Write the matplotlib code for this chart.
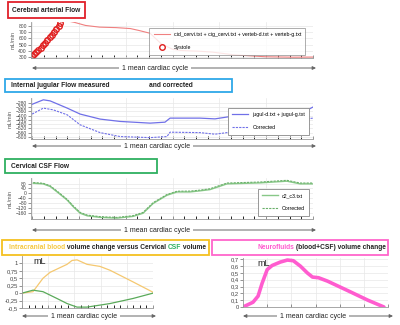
import numpy as np
import matplotlib.pyplot as plt
from matplotlib.patches import Rectangle
from matplotlib.ticker import MultipleLocator, FixedLocator

plt.rcParams['font.family'] = ['Liberation Sans', 'DejaVu Sans']

# --- data (time as fraction of one cardiac cycle) ---
art_t = [0, .03, .06, .09, .105, .125, .15, .19, .24, .30, .35, .38, .42, .46, .50, .53, .60, .64, .72, .83, .93, 1.0]
art_v = [310, 470, 650, 810, 860, 878, 855, 805, 778, 770, 755, 725, 680, 510, 425, 405, 392, 380, 335, 305, 298, 300]
sys_t = [0, .007, .014, .022, .030, .038, .046, .054, .062, .070, .078, .086, .094, .101]
sys_v = [315, 345, 375, 410, 450, 490, 530, 575, 615, 660, 705, 750, 795, 840]

jug_t = [0, .04, .064, .125, .171, .242, .313, .42, .473, .491, .598, .651, .705, .811, .918, .975, 1.0]
jug_v = [-294, -252, -262, -330, -386, -433, -455, -471, -462, -424, -424, -431, -409, -385, -365, -355, -320]
jugc_t = [0, .04, .075, .125, .171, .242, .313, .42, .48, .491, .598, .651, .705, .85, 1.0]
jugc_v = [-386, -330, -346, -393, -487, -560, -597, -607, -597, -556, -560, -575, -556, -471, -424]

csf_t = [.004, .039, .064, .089, .125, .146, .171, .196, .242, .302, .359, .395, .431, .48, .516, .562, .598, .633, .694, .811, .907, .954, 1.0]
csf_v = [82, 77, 56, 11, -56, -109, -163, -184, -197, -203, -189, -163, -83, -16, 11, 11, 20, 30, 77, 85, 99, 77, 77]
csfc_v = [88, 82, 62, 18, -50, -102, -156, -178, -191, -197, -183, -156, -76, -10, 17, 18, 26, 37, 84, 92, 106, 84, 84]

blood_t = [0, .084, .160, .214, .344, .382, .420, .496, .595, .672, .847, 1.0]
blood_v = [0, .05, .50, .70, .97, 1.10, 1.12, .97, .90, .77, .38, .03]
ccsf_t = [0, .084, .160, .267, .344, .420, .496, .672, .847, 1.0]
ccsf_v = [0, .10, .05, -.18, -.35, -.47, -.47, -.35, -.18, 0]

neuro_t = [0, .069, .104, .132, .167, .201, .257, .306, .347, .396, .444, .479, .521, .583, .743, .861, .972]
neuro_v = [0, .07, .16, .35, .55, .61, .66, .69, .68, .60, .50, .44, .43, .38, .22, .10, 0]

W, H = 400, 325
fig = plt.figure(figsize=(4, 3.25), dpi=100)


def panel(x0, y0, x1, y1):
    ax = fig.add_axes([x0 / W, 1 - y1 / H, (x1 - x0) / W, (y1 - y0) / H])
    for s in ['top', 'right']:
        ax.spines[s].set_visible(False)
    for s in ['left', 'bottom']:
        ax.spines[s].set_color('#999999')
        ax.spines[s].set_linewidth(0.6)
    ax.tick_params(labelsize=3.6, colors='#444444', length=2, width=0.4, pad=1)
    ax.tick_params(axis='x', which='both', direction='in', labelbottom=False, length=2)
    ax.grid(color='#e8e8e8', lw=0.5)
    ax.set_axisbelow(True)
    return ax


def comma(vals):
    return [('%g' % v).replace('.', ',') for v in vals]


def cycle_arrow(x0, x1, y, xc):
    ov.annotate('', xy=(x1, y), xytext=(x0, y),
                arrowprops=dict(arrowstyle='<|-|>', color='#666666', lw=0.7,
                                mutation_scale=5, shrinkA=0, shrinkB=0))
    ov.text(xc, y, '1 mean cardiac cycle', fontsize=5, ha='center', va='center',
            color='#222222', bbox=dict(fc='white', ec='none', pad=2))


def lbox(x0, y0, x1, y1, col):
    ov.add_patch(Rectangle((x0, y0), x1 - x0, y1 - y0, fill=False, ec=col, lw=1.3))


def ctext(x, y, parts, fs=4.8):
    t = ov.text(x, y, parts[0][0], color=parts[0][1], fontsize=fs, fontweight='bold',
                va='center', ha='left')
    for s, c in parts[1:]:
        t = ov.annotate(s, xy=(1, 0), xycoords=t, va='bottom', ha='left',
                        color=c, fontsize=fs, fontweight='bold')


# overlay in pixel coordinates for boxes, titles and arrows
ov = fig.add_axes([0, 0, 1, 1], zorder=5)
ov.set_xlim(0, W)
ov.set_ylim(H, 0)
ov.axis('off')
ov.patch.set_alpha(0)

# --- panel 1: cerebral arterial flow ---
ax1 = panel(31, 22, 313, 58)
ax1.plot(art_t, art_v, color='#f08080', lw=0.8,
         label='cid_cervi.txt + cig_cervi.txt + verteb-d.txt + verteb-g.txt')
ax1.plot(sys_t, sys_v, 'o', mfc='none', mec='#e02020', ms=4, mew=1, label='Systole')
ax1.set_xlim(-0.004, 1.0)
ax1.set_ylim(285, 860)
ax1.set_yticks(range(300, 900, 100))
ax1.xaxis.set_major_locator(MultipleLocator(1 / 6))
ax1.xaxis.set_minor_locator(MultipleLocator(1 / 24))
ax1.set_ylabel('mL/min', fontsize=4, color='#555555', labelpad=2)
leg = ax1.legend(loc='upper right', bbox_to_anchor=(308 / W, 1 - 25 / H),
                 bbox_transform=fig.transFigure, fontsize=3.8, frameon=True,
                 fancybox=False, edgecolor='#888888', labelspacing=1.6,
                 handlelength=3, borderpad=0.8)
leg.get_frame().set_linewidth(0.6)

# --- panel 2: internal jugular flow ---
ax2 = panel(31, 98, 313, 139)
ax2.plot(jug_t, jug_v, color='#7070e8', lw=0.9, label='jugul-d.txt + jugul-g.txt')
ax2.plot(jugc_t, jugc_v, color='#7070e8', lw=0.8, ls=(0, (2, 1)), label='Corrected')
ax2.set_xlim(-0.004, 1.0)
ax2.set_ylim(-620, -235)
ax2.set_yticks(range(-600, -279, 40))
ax2.xaxis.set_major_locator(MultipleLocator(1 / 6))
ax2.xaxis.set_minor_locator(MultipleLocator(1 / 24))
ax2.set_ylabel('mL/min', fontsize=4, color='#555555', labelpad=2)
leg = ax2.legend(loc='upper right', bbox_to_anchor=(312 / W, 1 - 105 / H),
                 bbox_transform=fig.transFigure, fontsize=3.8, frameon=True,
                 fancybox=False, edgecolor='#888888', labelspacing=1.6,
                 handlelength=3, borderpad=0.8, framealpha=1)
leg.get_frame().set_linewidth(0.6)

# --- panel 3: cervical CSF flow ---
ax3 = panel(31, 178, 313, 219)
ax3.plot(csf_t, csf_v, color='#88c888', lw=1.0, label='c2_c3.txt')
ax3.plot(csf_t, csfc_v, color='#6ab06a', lw=0.8, ls=(0, (2, 1)), label='Corrected')
ax3.set_xlim(-0.004, 1.0)
ax3.set_ylim(-210, 125)
ax3.set_yticks(range(-160, 81, 40))
ax3.xaxis.set_major_locator(MultipleLocator(1 / 6))
ax3.xaxis.set_minor_locator(MultipleLocator(1 / 24))
ax3.set_ylabel('mL/min', fontsize=4, color='#555555', labelpad=2)
leg = ax3.legend(loc='upper right', bbox_to_anchor=(312 / W, 1 - 186 / H),
                 bbox_transform=fig.transFigure, fontsize=3.8, frameon=True,
                 fancybox=False, edgecolor='#888888', labelspacing=1.6,
                 handlelength=3, borderpad=0.8, framealpha=1)
leg.get_frame().set_linewidth(0.6)

# --- panel 4: blood vs CSF volume change ---
ax4 = panel(22, 256, 153, 308)
ax4.plot(blood_t, blood_v, color='#f5c870', lw=0.9)
ax4.plot(ccsf_t, ccsf_v, color='#5aaa5a', lw=0.9)
ax4.set_xlim(0, 1)
ax4.set_ylim(-0.5, 1.25)
yt4 = [-0.5, -0.25, 0, 0.25, 0.5, 0.75, 1]
ax4.yaxis.set_major_locator(FixedLocator(yt4))
ax4.set_yticklabels(comma(yt4))
ax4.xaxis.set_major_locator(MultipleLocator(0.2))
ax4.xaxis.set_minor_locator(MultipleLocator(0.05))
ax4.tick_params(axis='y', labelsize=4.2)
ax4.text(0.09, 0.98, 'mL', transform=ax4.transAxes, fontsize=6.5, va='top', color='#222222')

# --- panel 5: neurofluids volume change ---
ax5 = panel(243, 258, 388, 307)
ax5.plot(neuro_t, neuro_v, color='#ff5ccf', lw=2.6, solid_capstyle='round')
ax5.set_xlim(0, 1)
ax5.set_ylim(0, 0.72)
yt5 = [0, 0.1, 0.2, 0.3, 0.4, 0.5, 0.6, 0.7]
ax5.yaxis.set_major_locator(FixedLocator(yt5))
ax5.set_yticklabels(comma(yt5))
ax5.xaxis.set_major_locator(MultipleLocator(1 / 6))
ax5.tick_params(axis='y', labelsize=4.2)
ax5.text(0.1, 0.97, 'mL', transform=ax5.transAxes, fontsize=6.5, va='top', color='#222222')

# --- title boxes ---
lbox(8, 2, 85, 18, '#e0202a')
ctext(12, 10, [('Cerebral arterial Flow', '#222222')])
lbox(5, 79, 232, 92, '#2ea8e8')
ctext(11, 85.5, [('Internal jugular Flow measured', '#222222')])
ctext(149, 85.5, [('and corrected', '#222222')])
lbox(5, 159, 157, 173, '#2eb060')
ctext(11, 166, [('Cervical CSF Flow', '#222222')])
lbox(2, 240, 209, 255, '#f5c020')
ctext(9, 247.5, [('Intracranial blood', '#f5c840'), (' volume change versus Cervical ', '#222222'),
                 ('CSF', '#2eb060'), (' volume', '#222222')])
lbox(212, 240, 388, 255, '#ff66cc')
ctext(257, 247.5, [('Neurofluids', '#ff5ccf'), (' (blood+CSF) volume change', '#222222')])

# --- cycle arrows ---
cycle_arrow(32, 316, 68, 155)
cycle_arrow(32, 316, 146, 157)
cycle_arrow(32, 316, 230, 157)
cycle_arrow(22, 156, 316, 84)
cycle_arrow(243, 393, 316, 313)

fig.savefig('out.png', dpi=100)
